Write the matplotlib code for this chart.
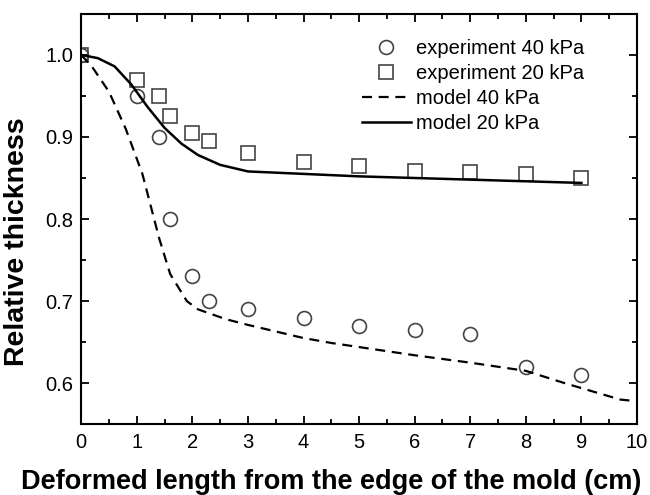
import matplotlib
matplotlib.use("Agg")
import matplotlib.pyplot as plt
from matplotlib.ticker import MultipleLocator, FormatStrFormatter

plt.rcParams['font.family'] = ['Liberation Sans', 'DejaVu Sans']

# experimental points
x_exp = [0, 1, 1.4, 1.6, 2, 2.3, 3, 4, 5, 6, 7, 8, 9]
exp_40 = [1.0, 0.95, 0.90, 0.80, 0.73, 0.70, 0.69, 0.68, 0.67, 0.665, 0.66, 0.62, 0.61]
exp_20 = [1.0, 0.97, 0.95, 0.925, 0.905, 0.895, 0.88, 0.87, 0.865, 0.858, 0.857, 0.855, 0.85]

# model curves
x_m40 = [0, 0.2, 0.5, 0.8, 1.1, 1.4, 1.6, 1.9, 2.1, 2.6, 3, 4, 4.5, 5, 6, 7, 8, 8.7, 9, 9.7, 10]
model_40 = [1.0, 0.985, 0.955, 0.91, 0.855, 0.777, 0.733, 0.70, 0.69, 0.678, 0.671, 0.655, 0.649,
            0.644, 0.634, 0.625, 0.615, 0.60, 0.594, 0.58, 0.578]
x_m20 = [0, 0.3, 0.6, 0.9, 1.2, 1.5, 1.8, 2.1, 2.5, 3, 4, 5, 6, 7, 8, 9]
model_20 = [1.0, 0.996, 0.986, 0.964, 0.936, 0.911, 0.892, 0.878, 0.866, 0.858, 0.855, 0.852,
            0.85, 0.848, 0.846, 0.844]

fig = plt.figure(figsize=(6.5, 4.95), dpi=100)
ax = fig.add_axes([0.125, 0.143, 0.855, 0.829])

mk = dict(linestyle='none', markersize=10, markerfacecolor='none',
          markeredgecolor='#444444', markeredgewidth=1.2)
ax.plot(x_exp, exp_40, marker='o', label='experiment 40 kPa', **mk)
ax.plot(x_exp, exp_20, marker='s', label='experiment 20 kPa', **mk)
ax.plot(x_m40, model_40, color='black', linestyle=(0, (4.5, 3)), linewidth=1.6, label='model 40 kPa')
ax.plot(x_m20, model_20, color='black', linestyle='-', linewidth=1.8, label='model 20 kPa')

ax.set_xlim(0, 10)
ax.set_ylim(0.55, 1.05)
ax.xaxis.set_major_locator(MultipleLocator(1))
ax.xaxis.set_minor_locator(MultipleLocator(0.5))
ax.yaxis.set_major_locator(MultipleLocator(0.1))
ax.yaxis.set_minor_locator(MultipleLocator(0.05))
ax.tick_params(which='both', direction='in', top=True, right=True, width=1.3)
ax.tick_params(which='major', length=6, labelsize=14.5, pad=6)
ax.tick_params(which='minor', length=3.5)
ax.yaxis.set_major_formatter(FormatStrFormatter('%.1f'))
for s in ax.spines.values():
    s.set_linewidth(1.5)

ax.set_xlabel('Deformed length from the edge of the mold (cm)', fontsize=19.5,
              fontweight='bold')
ax.xaxis.set_label_coords(0.45, -0.11)
ax.set_ylabel('Relative thickness', fontsize=20.5, fontweight='bold')
ax.yaxis.set_label_coords(-0.092, 0.444)

ax.legend(loc='upper left', frameon=False, fontsize=14.5, handlelength=2.4,
          handletextpad=0.25, labelspacing=0.3, bbox_to_anchor=(0.473, 0.983))

fig.savefig('out.png', dpi=100)
